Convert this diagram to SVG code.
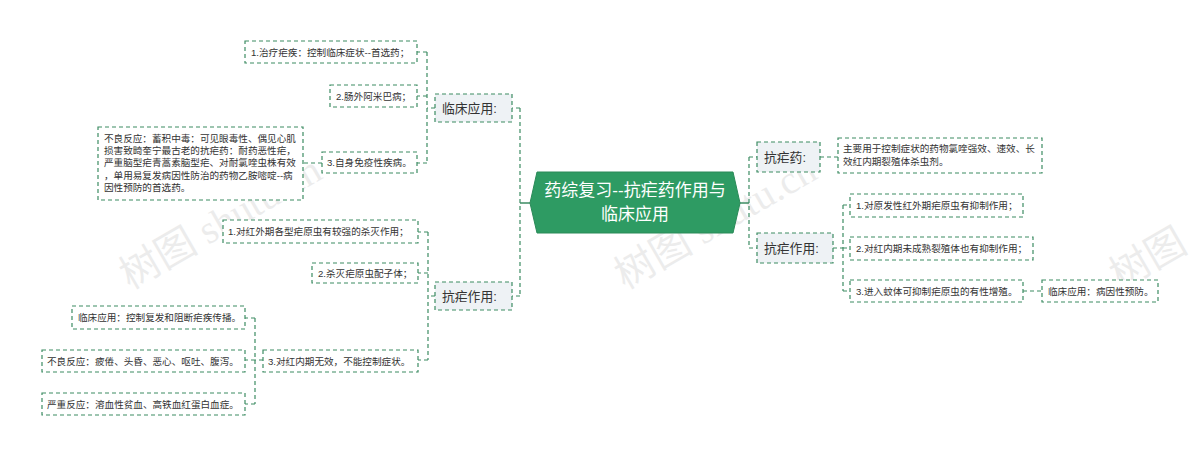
<svg xmlns="http://www.w3.org/2000/svg" width="1200" height="457" viewBox="0 0 1200 457">
<style>
.b{fill:#ffffff;stroke:#3c8c63;stroke-width:1.2;stroke-dasharray:4 3}
.l1{fill:#eef2f5;stroke:#3c8c63;stroke-width:1.2;stroke-dasharray:4 3}
.c{fill:none;stroke:#3c8c63;stroke-width:1.2;stroke-dasharray:4 3}
.s{fill:none;stroke:#3c8c63;stroke-width:1.4}
.t{font-family:"Liberation Sans","Noto Sans CJK SC",sans-serif;font-size:9.6px;fill:#333}
.t1{font-family:"Liberation Sans","Noto Sans CJK SC",sans-serif;font-size:12.8px;fill:#333}
.tc{font-family:"Liberation Sans","Noto Sans CJK SC",sans-serif;font-size:17px;fill:#fff;text-anchor:middle}
.wm{font-family:"Liberation Serif","Noto Sans CJK SC",serif;font-size:40px;fill:#000;opacity:0.07}
</style>
<rect width="1200" height="457" fill="#ffffff"/>
<g id="watermark">
<text class="wm" transform="translate(130,290) rotate(-30)">树图 shutu.cn</text>
<text class="wm" transform="translate(625,290) rotate(-30)">树图 shutu.cn</text>
<text class="wm" transform="translate(1120,290) rotate(-30)">树图</text>
</g>
<g id="connectors">
<path class="s" d="M520,203 H530 M740,203 H749"/>
<path class="c" d="M520,108 V296 M520,108 H512 M520,296 H512"/>
<path class="c" d="M749,157 V248 M749,157 H757 M749,248 H757"/>
<path class="c" d="M435,108 H427 M427,52 V163 M427,52 H417 M427,96 H417 M427,163 H417"/>
<path class="c" d="M322,163 H303"/>
<path class="c" d="M435,296 H428 M428,232 V360 M428,232 H418 M428,273 H418 M428,360 H418"/>
<path class="c" d="M263,360 H255 M255,318 V404 M255,318 H245 M255,360 H245 M255,404 H245"/>
<path class="c" d="M820,157 H838"/>
<path class="c" d="M833,248 H843 M843,205 V291 M843,205 H850 M843,248 H850 M843,291 H850"/>
<path class="c" d="M1023,291 H1042"/>
</g>
<g id="center">
<polygon points="530,203 537,172 733,172 740,203 733,233 537,233" fill="#2e9b63" stroke="#2a8a58" stroke-width="1"/>
<text class="tc" x="635" y="196">药综复习--抗疟药作用与</text>
<text class="tc" x="635" y="220">临床应用</text>
</g>
<g id="n-lcyy">
<rect class="l1" x="435" y="94" width="77" height="28"/>
<text class="t1" x="442" y="113">临床应用:</text>
</g>
<g id="n-knzy-left">
<rect class="l1" x="435" y="282" width="77" height="28"/>
<text class="t1" x="442" y="301">抗疟作用:</text>
</g>
<g id="n-l1">
<rect class="b" x="245" y="41" width="172" height="22"/>
<text class="t" x="251" y="56">1.治疗疟疾：控制临床症状--首选药；</text>
</g>
<g id="n-l2">
<rect class="b" x="330" y="85" width="87" height="22"/>
<text class="t" x="336" y="100">2.肠外阿米巴病；</text>
</g>
<g id="n-l3">
<rect class="b" x="322" y="152" width="95" height="21"/>
<text class="t" x="327" y="166">3.自身免疫性疾病。</text>
</g>
<g id="n-blfy1">
<rect class="b" x="98" y="127" width="205" height="73"/>
<text class="t" x="104" y="142">不良反应：蓄积中毒：可见眼毒性、偶见心肌</text>
<text class="t" x="104" y="154">损害致畸奎宁最古老的抗疟药：耐药恶性疟，</text>
<text class="t" x="104" y="166">严重脑型疟青蒿素脑型疟、对耐氯喹虫株有效</text>
<text class="t" x="104" y="179">，单用易复发病因性防治的药物乙胺嘧啶--病</text>
<text class="t" x="104" y="191">因性预防的首选药。</text>
</g>
<g id="n-k1">
<rect class="b" x="223" y="220" width="195" height="23"/>
<text class="t" x="228" y="235">1.对红外期各型疟原虫有较强的杀灭作用；</text>
</g>
<g id="n-k2">
<rect class="b" x="312" y="263" width="106" height="20"/>
<text class="t" x="318" y="277">2.杀灭疟原虫配子体；</text>
</g>
<g id="n-k3">
<rect class="b" x="263" y="350" width="155" height="22"/>
<text class="t" x="268" y="365">3.对红内期无效，不能控制症状。</text>
</g>
<g id="n-k3a">
<rect class="b" x="72" y="306" width="173" height="23"/>
<text class="t" x="78" y="321">临床应用：控制复发和阻断疟疾传播。</text>
</g>
<g id="n-k3b">
<rect class="b" x="42" y="350" width="203" height="22"/>
<text class="t" x="47" y="365">不良反应：疲倦、头昏、恶心、呕吐、腹泻。</text>
</g>
<g id="n-k3c">
<rect class="b" x="42" y="393" width="203" height="22"/>
<text class="t" x="47" y="408">严重反应：溶血性贫血、高铁血红蛋白血症。</text>
</g>
<g id="n-knyao">
<rect class="l1" x="757" y="142" width="63" height="30"/>
<text class="t1" x="764" y="162">抗疟药:</text>
</g>
<g id="n-knzy-right">
<rect class="l1" x="757" y="233" width="76" height="30"/>
<text class="t1" x="764" y="253">抗疟作用:</text>
</g>
<g id="n-r0">
<rect class="b" x="838" y="138" width="204" height="35"/>
<text class="t" x="843" y="152">主要用于控制症状的药物氯喹强效、速效、长</text>
<text class="t" x="843" y="165">效红内期裂殖体杀虫剂。</text>
</g>
<g id="n-r1">
<rect class="b" x="850" y="194" width="173" height="23"/>
<text class="t" x="856" y="209">1.对原发性红外期疟原虫有抑制作用；</text>
</g>
<g id="n-r2">
<rect class="b" x="850" y="237" width="183" height="23"/>
<text class="t" x="856" y="252">2.对红内期未成熟裂殖体也有抑制作用；</text>
</g>
<g id="n-r3">
<rect class="b" x="850" y="280" width="173" height="22"/>
<text class="t" x="856" y="295">3.进入蚊体可抑制疟原虫的有性增殖。</text>
</g>
<g id="n-r3a">
<rect class="b" x="1042" y="280" width="116" height="22"/>
<text class="t" x="1048" y="295">临床应用：病因性预防。</text>
</g>
</svg>
